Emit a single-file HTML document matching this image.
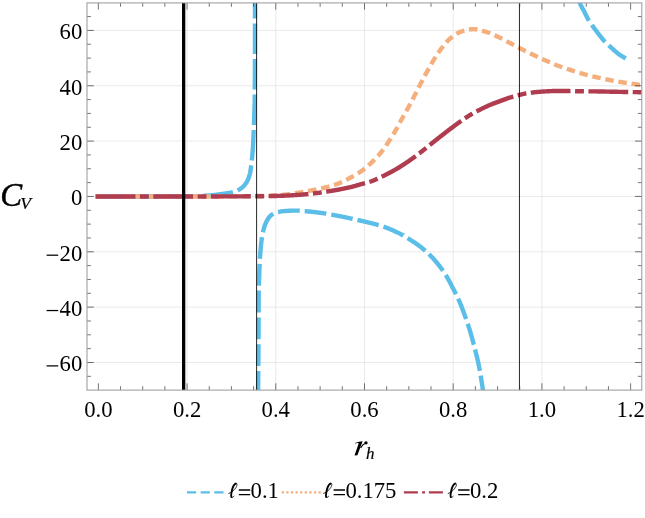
<!DOCTYPE html>
<html><head><meta charset="utf-8"><title>C_V vs r_h</title>
<style>
html,body{margin:0;padding:0;background:#fff;}
body{width:645px;height:518px;position:relative;overflow:hidden;font-family:"Liberation Serif",serif;}
</style></head><body>
<svg width="645" height="518" viewBox="0 0 645 518" style="position:absolute;left:0;top:0;will-change:transform">
<defs><clipPath id="c"><rect x="87.0" y="2.9" width="554.8" height="387.20000000000005"/></clipPath></defs>
<path d="M187.07 2.9 V390.1 M275.78 2.9 V390.1 M364.49 2.9 V390.1 M453.20 2.9 V390.1 M541.91 2.9 V390.1 M87.0 362.49 H641.8 M87.0 307.14 H641.8 M87.0 251.80 H641.8 M87.0 196.45 H641.8 M87.0 141.10 H641.8 M87.0 85.76 H641.8 M87.0 30.41 H641.8" stroke="#d4d4d4" stroke-width="0.5" fill="none"/>
<g clip-path="url(#c)" fill="none" stroke-linecap="butt" stroke-linejoin="round">
<path d="M95.60 196.45 L96.17 196.45 L96.75 196.45 L97.32 196.45 L97.90 196.45 L98.47 196.45 L99.05 196.45 L99.62 196.45 L100.19 196.45 L100.77 196.45 L101.34 196.45 L101.92 196.45 L102.49 196.45 L103.06 196.45 L103.64 196.45 L104.21 196.45 L104.79 196.45 L105.36 196.45 L105.94 196.45 L106.51 196.45 L107.08 196.45 L107.66 196.45 L108.23 196.45 L108.81 196.45 L109.38 196.45 L109.95 196.45 L110.53 196.45 L111.10 196.45 L111.68 196.45 L112.25 196.45 L112.83 196.45 L113.40 196.45 L113.97 196.45 L114.55 196.45 L115.12 196.45 L115.70 196.45 L116.27 196.45 L116.84 196.45 L117.42 196.45 L117.99 196.45 L118.57 196.45 L119.14 196.45 L119.72 196.45 L120.29 196.45 L120.86 196.45 L121.44 196.45 L122.01 196.45 L122.59 196.45 L123.16 196.45 L123.73 196.45 L124.31 196.45 L124.88 196.45 L125.46 196.45 L126.03 196.45 L126.42 196.45 M131.42 196.45 L131.77 196.45 L132.35 196.45 L132.92 196.45 L133.50 196.45 L134.07 196.45 L134.64 196.45 L135.22 196.45 L135.79 196.45 L136.37 196.45 L136.94 196.45 L137.52 196.45 L138.09 196.45 L138.66 196.45 L139.24 196.45 L139.81 196.45 L140.39 196.45 L140.96 196.45 L141.53 196.45 L142.11 196.45 L142.68 196.45 L143.26 196.45 L143.83 196.45 L144.41 196.45 L144.98 196.45 L145.55 196.45 L146.13 196.45 L146.70 196.44 L147.28 196.44 L147.85 196.44 L148.42 196.44 L149.00 196.44 L149.57 196.44 L150.15 196.44 L150.72 196.44 L151.30 196.44 L151.87 196.43 L152.44 196.43 L153.02 196.43 L153.59 196.43 L154.17 196.43 L154.74 196.43 L155.32 196.42 L155.89 196.42 L156.46 196.42 L157.04 196.42 L157.61 196.42 L158.19 196.41 L158.76 196.41 L159.33 196.41 L159.91 196.41 L160.48 196.41 L161.06 196.40 L161.63 196.40 L162.02 196.40 M167.02 196.38 L167.37 196.37 L167.95 196.37 L168.52 196.37 L169.10 196.36 L169.67 196.36 L170.24 196.36 L170.82 196.36 L171.39 196.35 L171.97 196.35 L172.54 196.35 L173.11 196.34 L173.69 196.34 L174.26 196.34 L174.84 196.33 L175.41 196.33 L175.99 196.33 L176.56 196.32 L177.13 196.32 L177.71 196.31 L178.28 196.31 L178.86 196.31 L179.43 196.30 L180.00 196.30 L180.58 196.30 L181.15 196.29 L181.73 196.29 L182.30 196.28 L182.88 196.28 L183.45 196.27 L184.02 196.27 L184.60 196.26 L185.17 196.26 L185.75 196.25 L186.32 196.25 L186.90 196.24 L187.47 196.23 L188.04 196.22 L188.62 196.22 L189.19 196.21 L189.77 196.20 L190.34 196.19 L190.92 196.18 L191.49 196.18 L192.06 196.17 L192.64 196.16 L193.21 196.15 L193.79 196.14 L194.36 196.13 L194.93 196.11 L195.51 196.10 L196.08 196.09 L196.66 196.08 L197.23 196.07 L197.62 196.06 M202.62 195.90 L202.97 195.88 L203.54 195.85 L204.11 195.82 L204.69 195.79 L205.26 195.75 L205.83 195.71 L206.41 195.67 L206.98 195.63 L207.55 195.59 L208.13 195.55 L208.70 195.50 L209.27 195.46 L209.84 195.41 L210.41 195.37 L210.99 195.32 L211.56 195.26 L212.13 195.21 L212.70 195.15 L213.27 195.08 L213.84 195.02 L214.41 194.95 L214.98 194.88 L215.55 194.81 L216.12 194.74 L216.69 194.67 L217.26 194.59 L217.83 194.52 L218.40 194.44 L218.97 194.37 L219.54 194.29 L220.11 194.21 L220.68 194.14 L221.25 194.06 L221.82 193.99 L222.39 193.91 L222.96 193.84 L223.54 193.77 L224.11 193.69 L224.68 193.62 L225.26 193.54 L225.83 193.46 L226.40 193.38 L226.97 193.29 L227.54 193.21 L228.11 193.12 L228.68 193.02 L229.24 192.93 L229.80 192.82 L230.36 192.72 L230.92 192.60 L231.48 192.49 L232.03 192.36 L232.58 192.23 L232.95 192.13 M237.62 190.36 L237.98 190.18 L238.48 189.92 L238.97 189.66 L239.46 189.38 L239.95 189.08 L240.43 188.76 L240.91 188.43 L241.38 188.08 L241.84 187.71 L242.29 187.34 L242.73 186.95 L243.15 186.56 L243.56 186.16 L243.95 185.76 L244.32 185.34 L244.69 184.91 L245.06 184.47 L245.41 184.01 L245.75 183.53 L246.08 183.05 L246.40 182.56 L246.71 182.06 L247.00 181.56 L247.27 181.06 L247.52 180.55 L247.76 180.04 L248.00 179.53 L248.23 179.00 L248.45 178.46 L248.66 177.92 L248.86 177.38 L249.05 176.83 L249.23 176.28 L249.40 175.73 L249.55 175.17 L249.69 174.62 L249.82 174.07 L249.95 173.51 L250.06 172.95 L250.18 172.39 L250.28 171.83 L250.38 171.26 L250.48 170.69 L250.57 170.12 L250.66 169.55 L250.75 168.98 L250.83 168.41 L250.91 167.84 L250.99 167.27 L251.07 166.70 L251.15 166.13 L251.22 165.56 L251.25 165.37 M251.81 160.40 L251.87 159.86 L251.92 159.29 L251.98 158.72 L252.03 158.14 L252.09 157.57 L252.14 157.00 L252.20 156.43 L252.25 155.86 L252.31 155.29 L252.36 154.71 L252.41 154.14 L252.46 153.57 L252.51 153.00 L252.56 152.42 L252.61 151.85 L252.66 151.28 L252.70 150.71 L252.75 150.14 L252.79 149.56 L252.83 148.99 L252.87 148.42 L252.91 147.84 L252.95 147.27 L252.98 146.70 L253.02 146.13 L253.05 145.55 L253.08 144.98 L253.11 144.41 L253.14 143.83 L253.17 143.26 L253.19 142.69 L253.22 142.11 L253.25 141.54 L253.27 140.97 L253.30 140.39 L253.32 139.82 L253.35 139.24 L253.37 138.67 L253.39 138.10 L253.41 137.52 L253.44 136.95 L253.46 136.38 L253.48 135.80 L253.50 135.23 L253.53 134.65 L253.55 134.08 L253.57 133.51 L253.59 132.93 L253.61 132.36 L253.64 131.78 L253.66 131.21 L253.68 130.64 L253.71 130.06 L253.71 129.97 M253.92 124.97 L253.92 124.90 L253.94 124.33 L253.97 123.75 L253.99 123.18 L254.02 122.61 L254.04 122.03 L254.06 121.46 L254.09 120.88 L254.11 120.31 L254.13 119.74 L254.15 119.16 L254.18 118.59 L254.20 118.02 L254.22 117.44 L254.24 116.87 L254.26 116.29 L254.28 115.72 L254.30 115.15 L254.32 114.57 L254.34 114.00 L254.36 113.42 L254.38 112.85 L254.39 112.28 L254.41 111.70 L254.43 111.13 L254.45 110.56 L254.46 109.98 L254.48 109.41 L254.50 108.83 L254.52 108.26 L254.53 107.69 L254.55 107.11 L254.57 106.54 L254.58 105.96 L254.60 105.39 L254.61 104.82 L254.63 104.24 L254.64 103.67 L254.65 103.09 L254.66 102.52 L254.67 101.95 L254.68 101.37 L254.69 100.80 L254.70 100.22 L254.70 99.65 L254.71 99.07 L254.71 98.50 L254.72 97.93 L254.72 97.35 L254.73 96.78 L254.73 96.20 L254.74 95.63 L254.74 95.06 L254.75 94.49 M254.79 89.49 L254.79 89.31 L254.79 88.74 L254.80 88.17 L254.80 87.59 L254.81 87.02 L254.81 86.44 L254.81 85.87 L254.82 85.30 L254.82 84.72 L254.82 84.15 L254.83 83.57 L254.83 83.00 L254.84 82.42 L254.84 81.85 L254.84 81.28 L254.85 80.70 L254.85 80.13 L254.85 79.55 L254.85 78.98 L254.86 78.41 L254.86 77.83 L254.86 77.26 L254.87 76.68 L254.87 76.11 L254.87 75.53 L254.87 74.96 L254.88 74.39 L254.88 73.81 L254.88 73.24 L254.88 72.66 L254.89 72.09 L254.89 71.52 L254.89 70.94 L254.89 70.37 L254.90 69.79 L254.90 69.22 L254.90 68.64 L254.90 68.07 L254.91 67.50 L254.91 66.92 L254.91 66.35 L254.91 65.77 L254.91 65.20 L254.91 64.62 L254.92 64.05 L254.92 63.48 L254.92 62.90 L254.92 62.33 L254.92 61.75 L254.93 61.18 L254.93 60.61 L254.93 60.03 L254.93 59.46 L254.93 58.99 M254.94 53.99 L254.94 53.71 L254.94 53.14 L254.95 52.57 L254.95 51.99 L254.95 51.42 L254.95 50.84 L254.95 50.27 L254.95 49.70 L254.95 49.12 L254.95 48.55 L254.95 47.97 L254.95 47.40 L254.96 46.82 L254.96 46.25 L254.96 45.68 L254.96 45.10 L254.96 44.53 L254.96 43.95 L254.96 43.38 L254.96 42.81 L254.96 42.23 L254.96 41.66 L254.96 41.08 L254.97 40.51 L254.97 39.93 L254.97 39.36 L254.97 38.79 L254.97 38.21 L254.97 37.64 L254.97 37.06 L254.97 36.49 L254.97 35.92 L254.97 35.34 L254.97 34.77 L254.98 34.19 L254.98 33.62 L254.98 33.04 L254.98 32.47 L254.98 31.90 L254.98 31.32 L254.98 30.75 L254.98 30.17 L254.98 29.60 L254.98 29.03 L254.98 28.45 L254.98 27.88 L254.98 27.30 L254.98 26.73 L254.99 26.15 L254.99 25.58 L254.99 25.01 L254.99 24.43 L254.99 23.86 L254.99 23.49 M254.99 18.49 L254.99 18.12 L254.99 17.54 L254.99 16.97 L254.99 16.39 L255.00 15.82 L255.00 15.24 L255.00 14.67 L255.00 14.10 L255.00 13.52 L255.00 12.95 L255.00 12.37 L255.00 11.80 L255.00 11.23 L255.00 10.65 L255.00 10.08 L255.00 9.50 L255.00 8.93 L255.00 8.35 L255.00 7.78 L255.00 7.21 L255.00 6.63 L255.00 6.06 L255.00 5.48 L255.00 4.91 L255.00 4.34 L255.00 3.76 L255.00 3.19 L255.00 2.61 L255.00 2.04 L255.00 1.46 L255.00 0.89 L255.00 0.32 L255.00 -0.26 L255.00 -0.83 L255.00 -1.41 L255.00 -1.98 L255.00 -2.55 L255.00 -3.13 L255.00 -3.70 L255.00 -4.28 L255.00 -4.85 L255.00 -5.43 L255.00 -6.00 " stroke="#5abee8" stroke-width="4.4"/>
<path d="M258.06 392.80 L258.06 392.62 L258.07 392.06 L258.08 391.50 L258.09 390.94 L258.09 390.37 L258.10 389.81 L258.11 389.25 L258.11 388.68 L258.12 388.12 L258.13 387.56 L258.13 387.00 L258.14 386.43 L258.14 385.87 L258.15 385.31 L258.16 384.75 L258.16 384.18 L258.17 383.62 L258.17 383.06 L258.18 382.49 L258.19 381.93 L258.19 381.37 L258.20 380.81 L258.20 380.24 L258.21 379.68 L258.21 379.12 L258.22 378.56 L258.23 377.99 L258.23 377.43 L258.24 376.87 L258.24 376.30 L258.25 375.74 L258.25 375.18 L258.26 374.62 L258.26 374.05 L258.27 373.49 L258.27 372.93 L258.28 372.37 L258.28 371.80 L258.29 371.24 L258.29 371.00 M258.33 366.00 L258.33 365.61 L258.34 365.05 L258.34 364.49 L258.35 363.92 L258.35 363.36 L258.35 362.80 L258.36 362.24 L258.36 361.67 L258.37 361.11 L258.37 360.55 L258.37 359.98 L258.38 359.42 L258.38 358.86 L258.39 358.30 L258.39 357.73 L258.39 357.17 L258.40 356.61 L258.40 356.05 L258.41 355.48 L258.41 354.92 L258.41 354.36 L258.42 353.79 L258.42 353.23 L258.42 352.67 L258.43 352.11 L258.43 351.54 L258.43 350.98 L258.44 350.42 L258.44 349.85 L258.45 349.29 L258.45 348.73 L258.45 348.17 L258.46 347.60 L258.46 347.04 L258.46 346.48 L258.47 345.92 L258.47 345.35 L258.47 344.79 L258.48 344.23 L258.48 344.20 M258.50 339.20 L258.50 339.16 L258.51 338.60 L258.51 338.04 L258.51 337.47 L258.52 336.91 L258.52 336.35 L258.52 335.79 L258.52 335.22 L258.53 334.66 L258.53 334.10 L258.53 333.53 L258.53 332.97 L258.54 332.41 L258.54 331.85 L258.54 331.28 L258.54 330.72 L258.54 330.16 L258.55 329.59 L258.55 329.03 L258.55 328.47 L258.55 327.91 L258.55 327.34 L258.55 326.78 L258.56 326.22 L258.56 325.65 L258.56 325.09 L258.56 324.53 L258.56 323.97 L258.57 323.40 L258.57 322.84 L258.57 322.28 L258.57 321.72 L258.57 321.15 L258.57 320.59 L258.57 320.03 L258.58 319.46 L258.58 318.90 L258.58 318.34 L258.58 317.78 L258.58 317.40 M258.60 312.40 L258.60 312.15 L258.60 311.58 L258.60 311.02 L258.61 310.46 L258.61 309.90 L258.61 309.33 L258.61 308.77 L258.61 308.21 L258.62 307.65 L258.62 307.08 L258.62 306.52 L258.62 305.96 L258.63 305.39 L258.63 304.83 L258.63 304.27 L258.63 303.71 L258.64 303.14 L258.64 302.58 L258.64 302.02 L258.65 301.46 L258.65 300.89 L258.65 300.33 L258.66 299.77 L258.66 299.20 L258.66 298.64 L258.67 298.08 L258.67 297.52 L258.68 296.95 L258.68 296.39 L258.69 295.83 L258.69 295.27 L258.69 294.70 L258.70 294.14 L258.70 293.58 L258.71 293.01 L258.72 292.45 L258.73 291.89 L258.74 291.33 L258.75 290.76 L258.75 290.60 M258.88 285.60 L258.89 285.14 L258.91 284.58 L258.93 284.01 L258.95 283.45 L258.97 282.89 L258.98 282.33 L259.00 281.76 L259.02 281.20 L259.04 280.64 L259.06 280.08 L259.07 279.51 L259.09 278.95 L259.11 278.39 L259.13 277.83 L259.14 277.26 L259.16 276.70 L259.18 276.14 L259.20 275.58 L259.22 275.01 L259.23 274.45 L259.25 273.89 L259.27 273.32 L259.29 272.76 L259.31 272.20 L259.33 271.64 L259.35 271.07 L259.37 270.51 L259.39 269.95 L259.41 269.39 L259.43 268.82 L259.45 268.26 L259.47 267.70 L259.50 267.14 L259.52 266.58 L259.54 266.01 L259.57 265.45 L259.59 264.89 L259.62 264.33 L259.64 263.82 M259.91 258.82 L259.92 258.71 L259.95 258.15 L259.99 257.58 L260.03 257.02 L260.07 256.46 L260.11 255.90 L260.15 255.34 L260.19 254.78 L260.23 254.22 L260.27 253.65 L260.32 253.09 L260.36 252.53 L260.41 251.97 L260.45 251.41 L260.50 250.85 L260.54 250.29 L260.59 249.73 L260.64 249.17 L260.69 248.61 L260.74 248.05 L260.79 247.49 L260.84 246.93 L260.90 246.36 L260.95 245.80 L261.00 245.24 L261.06 244.68 L261.12 244.12 L261.18 243.56 L261.24 243.00 L261.30 242.44 L261.36 241.88 L261.43 241.32 L261.50 240.76 L261.56 240.20 L261.64 239.64 L261.71 239.09 L261.79 238.53 L261.86 237.97 L261.95 237.42 L261.99 237.13 M262.90 232.21 L262.98 231.88 L263.11 231.33 L263.24 230.78 L263.38 230.23 L263.52 229.69 L263.67 229.14 L263.82 228.60 L263.97 228.06 L264.13 227.53 L264.29 227.00 L264.47 226.46 L264.65 225.93 L264.83 225.39 L265.03 224.86 L265.24 224.33 L265.45 223.80 L265.67 223.27 L265.90 222.75 L266.14 222.24 L266.39 221.73 L266.64 221.23 L266.90 220.74 L267.17 220.26 L267.44 219.78 L267.74 219.30 L268.05 218.81 L268.37 218.33 L268.71 217.86 L269.06 217.39 L269.43 216.94 L269.80 216.51 L270.19 216.10 L270.59 215.72 L270.99 215.36 L271.41 215.04 L271.85 214.73 L272.31 214.42 L272.79 214.12 L273.28 213.83 L273.33 213.80 M277.99 212.04 L278.06 212.03 L278.60 211.91 L279.15 211.80 L279.70 211.69 L280.25 211.60 L280.81 211.50 L281.38 211.42 L281.94 211.34 L282.50 211.26 L283.07 211.20 L283.64 211.14 L284.20 211.08 L284.76 211.04 L285.32 211.00 L285.88 210.96 L286.44 210.93 L287.01 210.89 L287.57 210.86 L288.13 210.83 L288.69 210.80 L289.25 210.77 L289.82 210.74 L290.38 210.72 L290.94 210.69 L291.51 210.67 L292.07 210.65 L292.63 210.64 L293.20 210.62 L293.76 210.61 L294.32 210.61 L294.88 210.60 L295.45 210.60 L296.01 210.60 L296.57 210.61 L297.13 210.63 L297.70 210.65 L298.26 210.67 L298.82 210.70 L299.38 210.74 L299.70 210.76 M304.68 211.14 L305.00 211.16 L305.56 211.20 L306.12 211.25 L306.68 211.29 L307.24 211.34 L307.80 211.39 L308.36 211.44 L308.92 211.49 L309.48 211.54 L310.04 211.60 L310.60 211.65 L311.16 211.71 L311.72 211.77 L312.28 211.83 L312.84 211.89 L313.40 211.95 L313.96 212.01 L314.52 212.08 L315.08 212.14 L315.64 212.20 L316.20 212.27 L316.76 212.34 L317.31 212.41 L317.87 212.48 L318.43 212.55 L318.99 212.63 L319.55 212.70 L320.10 212.78 L320.66 212.86 L321.22 212.94 L321.78 213.02 L322.33 213.10 L322.89 213.18 L323.45 213.27 L324.00 213.35 L324.56 213.44 L325.12 213.52 L325.67 213.61 L326.23 213.70 L326.32 213.72 M331.25 214.57 L331.77 214.67 L332.32 214.77 L332.88 214.87 L333.43 214.97 L333.98 215.08 L334.54 215.18 L335.09 215.29 L335.64 215.39 L336.20 215.49 L336.75 215.60 L337.30 215.70 L337.86 215.81 L338.41 215.92 L338.96 216.02 L339.51 216.13 L340.07 216.24 L340.62 216.35 L341.17 216.46 L341.72 216.57 L342.27 216.68 L342.82 216.79 L343.38 216.90 L343.93 217.01 L344.48 217.13 L345.03 217.24 L345.58 217.35 L346.13 217.47 L346.68 217.58 L347.23 217.70 L347.78 217.82 L348.33 217.94 L348.88 218.05 L349.43 218.17 L349.98 218.29 L350.53 218.41 L351.08 218.53 L351.63 218.65 L352.18 218.77 L352.62 218.87 M357.50 219.96 L357.68 220.00 L358.23 220.12 L358.78 220.24 L359.33 220.36 L359.88 220.48 L360.42 220.61 L360.97 220.73 L361.52 220.85 L362.07 220.98 L362.62 221.10 L363.17 221.23 L363.72 221.36 L364.26 221.49 L364.81 221.62 L365.36 221.75 L365.91 221.88 L366.45 222.01 L367.00 222.14 L367.55 222.27 L368.10 222.41 L368.64 222.54 L369.19 222.67 L369.74 222.80 L370.29 222.94 L370.83 223.07 L371.38 223.21 L371.93 223.34 L372.47 223.48 L373.02 223.62 L373.57 223.76 L374.11 223.90 L374.66 224.04 L375.20 224.18 L375.74 224.33 L376.29 224.47 L376.83 224.62 L377.37 224.77 L377.91 224.93 L378.45 225.08 L378.67 225.14 M383.44 226.65 L383.81 226.78 L384.34 226.97 L384.87 227.16 L385.41 227.35 L385.93 227.54 L386.46 227.74 L386.99 227.94 L387.52 228.14 L388.04 228.34 L388.57 228.55 L389.09 228.75 L389.61 228.96 L390.13 229.17 L390.65 229.38 L391.17 229.60 L391.69 229.82 L392.21 230.04 L392.72 230.26 L393.24 230.49 L393.75 230.72 L394.27 230.95 L394.78 231.19 L395.29 231.42 L395.80 231.66 L396.31 231.90 L396.82 232.15 L397.33 232.40 L397.83 232.64 L398.34 232.90 L398.84 233.15 L399.34 233.40 L399.84 233.66 L400.34 233.92 L400.83 234.18 L401.33 234.45 L401.82 234.72 L402.31 234.99 L402.80 235.27 L403.29 235.54 L403.30 235.55 M407.59 238.13 L407.64 238.16 L408.12 238.46 L408.59 238.76 L409.07 239.06 L409.55 239.36 L410.02 239.66 L410.49 239.96 L410.97 240.26 L411.44 240.57 L411.92 240.87 L412.39 241.17 L412.87 241.48 L413.34 241.79 L413.81 242.09 L414.28 242.40 L414.76 242.71 L415.23 243.03 L415.69 243.34 L416.16 243.66 L416.63 243.98 L417.09 244.30 L417.55 244.62 L418.01 244.95 L418.47 245.28 L418.92 245.61 L419.37 245.94 L419.82 246.28 L420.26 246.62 L420.71 246.96 L421.15 247.31 L421.59 247.66 L422.02 248.01 L422.46 248.36 L422.89 248.72 L423.33 249.08 L423.76 249.45 L424.19 249.81 L424.62 250.18 L425.04 250.55 L425.30 250.78 M428.97 254.18 L429.18 254.39 L429.58 254.78 L429.98 255.17 L430.38 255.57 L430.77 255.97 L431.16 256.37 L431.55 256.78 L431.93 257.18 L432.32 257.59 L432.70 258.00 L433.08 258.42 L433.46 258.83 L433.84 259.25 L434.22 259.67 L434.59 260.10 L434.96 260.52 L435.33 260.95 L435.70 261.38 L436.07 261.81 L436.43 262.24 L436.79 262.67 L437.15 263.11 L437.51 263.55 L437.86 263.98 L438.22 264.42 L438.57 264.86 L438.92 265.31 L439.26 265.75 L439.61 266.20 L439.95 266.64 L440.29 267.09 L440.63 267.54 L440.96 267.98 L441.29 268.44 L441.62 268.89 L441.95 269.35 L442.28 269.81 L442.60 270.27 L442.92 270.73 L442.99 270.83 M445.73 275.01 L446.00 275.45 L446.30 275.93 L446.59 276.41 L446.88 276.89 L447.16 277.38 L447.44 277.86 L447.72 278.35 L448.00 278.84 L448.27 279.33 L448.54 279.82 L448.81 280.32 L449.08 280.81 L449.34 281.31 L449.61 281.81 L449.87 282.31 L450.13 282.81 L450.39 283.31 L450.65 283.81 L450.91 284.31 L451.16 284.81 L451.42 285.31 L451.68 285.81 L451.93 286.32 L452.19 286.82 L452.44 287.32 L452.70 287.82 L452.96 288.32 L453.21 288.82 L453.47 289.32 L453.73 289.83 L453.99 290.33 L454.24 290.83 L454.50 291.33 L454.76 291.83 L455.02 292.33 L455.27 292.83 L455.53 293.33 L455.79 293.83 L455.99 294.24 M458.18 298.73 L458.25 298.89 L458.49 299.40 L458.72 299.92 L458.95 300.43 L459.17 300.94 L459.40 301.46 L459.62 301.97 L459.84 302.49 L460.06 303.01 L460.27 303.53 L460.49 304.05 L460.70 304.57 L460.91 305.10 L461.12 305.62 L461.33 306.14 L461.53 306.67 L461.74 307.19 L461.94 307.72 L462.15 308.24 L462.35 308.77 L462.55 309.29 L462.75 309.82 L462.95 310.34 L463.15 310.87 L463.35 311.39 L463.55 311.92 L463.75 312.45 L463.94 312.98 L464.13 313.51 L464.33 314.03 L464.52 314.56 L464.71 315.09 L464.90 315.62 L465.09 316.15 L465.28 316.68 L465.46 317.21 L465.65 317.75 L465.84 318.28 L466.02 318.81 L466.10 319.04 M467.71 323.77 L467.83 324.14 L468.01 324.67 L468.18 325.21 L468.36 325.74 L468.53 326.28 L468.70 326.81 L468.88 327.35 L469.05 327.89 L469.22 328.42 L469.39 328.96 L469.55 329.50 L469.72 330.03 L469.88 330.57 L470.05 331.11 L470.21 331.65 L470.37 332.19 L470.53 332.73 L470.69 333.27 L470.85 333.81 L471.00 334.35 L471.16 334.89 L471.32 335.43 L471.47 335.97 L471.62 336.51 L471.78 337.05 L471.93 337.60 L472.08 338.14 L472.23 338.68 L472.38 339.22 L472.53 339.77 L472.68 340.31 L472.82 340.85 L472.97 341.40 L473.11 341.94 L473.26 342.48 L473.40 343.03 L473.54 343.57 L473.68 344.12 L473.82 344.66 L473.83 344.69 M475.06 349.54 L475.07 349.57 L475.20 350.12 L475.34 350.66 L475.48 351.21 L475.62 351.76 L475.76 352.30 L475.90 352.85 L476.04 353.39 L476.18 353.94 L476.32 354.48 L476.46 355.03 L476.60 355.57 L476.73 356.12 L476.87 356.66 L477.00 357.21 L477.14 357.76 L477.27 358.30 L477.40 358.85 L477.53 359.40 L477.65 359.95 L477.78 360.50 L477.90 361.05 L478.02 361.60 L478.14 362.15 L478.25 362.70 L478.37 363.25 L478.48 363.80 L478.60 364.35 L478.71 364.90 L478.82 365.45 L478.93 366.01 L479.04 366.56 L479.14 367.11 L479.25 367.66 L479.36 368.22 L479.46 368.77 L479.56 369.32 L479.67 369.88 L479.77 370.43 L479.84 370.80 M480.69 375.72 L480.73 375.97 L480.82 376.53 L480.91 377.08 L481.01 377.64 L481.10 378.20 L481.19 378.75 L481.28 379.31 L481.37 379.86 L481.45 380.42 L481.54 380.97 L481.63 381.53 L481.72 382.09 L481.81 382.64 L481.90 383.20 L481.98 383.75 L482.07 384.31 L482.15 384.87 L482.24 385.42 L482.32 385.98 L482.41 386.53 L482.49 387.09 L482.58 387.65 L482.66 388.20 L482.74 388.76 L482.83 389.32 L482.91 389.87 L482.99 390.43 L483.08 390.99 L483.16 391.54 L483.24 392.10 L483.32 392.66 L483.40 393.21 L483.48 393.77 L483.56 394.33 L483.64 394.89 L483.72 395.44 L483.80 396.00 " stroke="#5abee8" stroke-width="4.4"/>
<path d="M578.40 -4.00 L578.46 -3.47 M579.47 1.42 L579.61 1.93 L579.75 2.44 L579.91 2.96 L580.08 3.47 L580.27 3.97 L580.48 4.47 L580.69 4.97 L580.92 5.47 L581.17 5.96 L581.42 6.45 L581.67 6.94 L581.94 7.42 L582.20 7.91 L582.48 8.39 L582.75 8.88 L583.02 9.36 L583.30 9.84 L583.57 10.33 L583.83 10.81 L584.09 11.30 L584.34 11.79 L584.59 12.28 L584.83 12.77 L585.08 13.26 L585.32 13.76 L585.56 14.25 L585.80 14.75 L586.04 15.24 L586.29 15.73 L586.53 16.22 L586.78 16.72 L587.03 17.20 L587.28 17.69 L587.53 18.17 L587.79 18.66 L588.06 19.13 L588.33 19.61 L588.61 20.08 L588.89 20.54 L589.01 20.74 M591.80 24.89 L591.94 25.09 L592.26 25.54 L592.59 25.99 L592.91 26.43 L593.24 26.87 L593.56 27.32 L593.89 27.76 L594.21 28.20 L594.54 28.64 L594.86 29.09 L595.19 29.53 L595.51 29.97 L595.84 30.41 L596.17 30.84 L596.50 31.28 L596.84 31.72 L597.17 32.15 L597.51 32.58 L597.84 33.02 L598.18 33.45 L598.52 33.88 L598.86 34.31 L599.20 34.74 L599.54 35.17 L599.88 35.60 L600.22 36.03 L600.56 36.46 L600.90 36.90 L601.24 37.33 L601.58 37.76 L601.92 38.19 L602.27 38.62 L602.61 39.04 L602.96 39.47 L603.32 39.88 L603.67 40.30 L604.03 40.71 L604.40 41.11 L604.77 41.51 L605.12 41.88 M608.69 45.38 L609.08 45.74 L609.48 46.11 L609.89 46.48 L610.29 46.85 L610.70 47.22 L611.11 47.58 L611.52 47.95 L611.93 48.32 L612.34 48.68 L612.75 49.04 L613.16 49.41 L613.57 49.77 L613.98 50.14 L614.39 50.50 L614.80 50.87 L615.22 51.23 L615.63 51.59 L616.05 51.95 L616.47 52.30 L616.90 52.65 L617.32 53.00 L617.75 53.34 L618.18 53.68 L618.62 54.00 L619.06 54.33 L619.50 54.64 L619.95 54.95 L620.41 55.25 L620.87 55.54 L621.33 55.83 L621.80 56.12 L622.27 56.40 L622.75 56.68 L623.22 56.96 L623.70 57.24 L624.17 57.51 L624.65 57.79 L625.12 58.07 L625.59 58.35 L625.78 58.47 " stroke="#5abee8" stroke-width="4.4"/>
<path d="M95.60 196.45 L96.31 196.45 L97.02 196.45 L97.73 196.45 L98.45 196.45 L99.16 196.45 L99.87 196.45 L100.58 196.45 L101.29 196.45 L102.00 196.45 L102.71 196.45 L103.42 196.45 L104.14 196.45 L104.15 196.45 M108.90 196.45 L109.11 196.45 L109.83 196.45 L110.54 196.45 L111.25 196.45 L111.96 196.45 L112.67 196.45 L113.38 196.45 L114.09 196.45 L114.80 196.45 L115.52 196.45 L116.23 196.45 L116.94 196.45 L117.45 196.45 M122.20 196.45 L122.63 196.45 L123.34 196.45 L124.05 196.45 L124.76 196.45 L125.47 196.45 L126.18 196.45 L126.90 196.45 L127.61 196.45 L128.32 196.45 L129.03 196.45 L129.74 196.45 L130.45 196.45 L130.75 196.45 M135.50 196.45 L136.14 196.45 L136.85 196.45 L137.56 196.45 L138.28 196.45 L138.99 196.45 L139.70 196.45 L140.41 196.45 L141.12 196.45 L141.83 196.45 L142.54 196.45 L143.25 196.45 L143.97 196.45 L144.05 196.45 M148.80 196.45 L148.94 196.45 L149.66 196.45 L150.37 196.45 L151.08 196.45 L151.79 196.45 L152.50 196.45 L153.21 196.45 L153.92 196.45 L154.63 196.45 L155.35 196.45 L156.06 196.45 L156.77 196.45 L157.35 196.45 M162.10 196.45 L162.46 196.45 L163.17 196.45 L163.88 196.45 L164.59 196.45 L165.30 196.45 L166.01 196.45 L166.73 196.45 L167.44 196.45 L168.15 196.45 L168.86 196.45 L169.57 196.45 L170.28 196.45 L170.65 196.45 M175.40 196.45 L175.97 196.45 L176.68 196.45 L177.39 196.45 L178.11 196.45 L178.82 196.45 L179.53 196.45 L180.24 196.45 L180.95 196.45 L181.66 196.45 L182.37 196.45 L183.08 196.45 L183.80 196.45 L183.95 196.45 M188.70 196.45 L188.77 196.45 L189.49 196.45 L190.20 196.45 L190.91 196.45 L191.62 196.45 L192.33 196.45 L193.04 196.45 L193.75 196.45 L194.46 196.45 L195.18 196.45 L195.89 196.45 L196.60 196.45 L197.25 196.45 M202.00 196.45 L202.29 196.45 L203.00 196.45 L203.71 196.45 L204.42 196.45 L205.13 196.45 L205.84 196.45 L206.56 196.45 L207.27 196.44 L207.98 196.44 L208.69 196.44 L209.40 196.44 L210.11 196.44 L210.55 196.44 M215.30 196.42 L215.80 196.42 L216.51 196.42 L217.22 196.42 L217.94 196.42 L218.65 196.41 L219.36 196.41 L220.07 196.41 L220.78 196.40 L221.49 196.40 L222.20 196.40 L222.91 196.40 L223.63 196.39 L223.85 196.39 M228.60 196.37 L228.60 196.37 L229.32 196.36 L230.03 196.36 L230.74 196.36 L231.45 196.35 L232.16 196.35 L232.87 196.34 L233.58 196.34 L234.29 196.34 L235.01 196.33 L235.72 196.33 L236.43 196.32 L237.14 196.32 L237.15 196.32 M241.90 196.29 L242.12 196.28 L242.83 196.28 L243.54 196.27 L244.25 196.26 L244.96 196.26 L245.67 196.25 L246.39 196.24 L247.10 196.23 L247.81 196.22 L248.52 196.21 L249.23 196.20 L249.94 196.19 L250.45 196.18 M255.20 196.10 L255.63 196.09 L256.34 196.07 L257.06 196.06 L257.77 196.04 L258.48 196.03 L259.19 196.01 L259.90 195.99 L260.61 195.98 L261.32 195.96 L262.03 195.94 L262.74 195.92 L263.46 195.90 L263.75 195.89 M268.49 195.75 L269.14 195.73 L269.85 195.71 L270.56 195.68 L271.27 195.65 L271.98 195.62 L272.69 195.58 L273.40 195.55 L274.11 195.50 L274.82 195.46 L275.53 195.41 L276.24 195.36 L276.95 195.31 L277.03 195.30 M281.76 194.90 L281.92 194.89 L282.62 194.83 L283.33 194.76 L284.04 194.69 L284.75 194.62 L285.45 194.56 L286.16 194.48 L286.87 194.41 L287.57 194.32 L288.28 194.24 L288.99 194.15 L289.69 194.06 L290.26 193.98 M294.96 193.30 L295.33 193.24 L296.03 193.13 L296.73 193.02 L297.44 192.91 L298.14 192.80 L298.84 192.69 L299.54 192.58 L300.24 192.47 L300.95 192.35 L301.65 192.23 L302.35 192.11 L303.05 191.99 L303.40 191.93 M308.07 191.06 L308.64 190.95 L309.34 190.82 L310.04 190.68 L310.74 190.55 L311.44 190.41 L312.14 190.27 L312.83 190.14 L313.53 190.00 L314.23 189.87 L314.93 189.73 L315.63 189.60 L316.33 189.46 L316.47 189.43 M321.12 188.48 L321.21 188.46 L321.91 188.31 L322.60 188.16 L323.29 188.00 L323.99 187.84 L324.68 187.68 L325.37 187.51 L326.05 187.34 L326.74 187.16 L327.43 186.98 L328.12 186.80 L328.81 186.61 L329.42 186.44 M333.97 185.07 L334.28 184.97 L334.95 184.75 L335.63 184.52 L336.30 184.29 L336.97 184.05 L337.63 183.81 L338.30 183.57 L338.96 183.32 L339.61 183.06 L340.27 182.79 L340.92 182.51 L341.56 182.22 L341.96 182.04 M346.21 179.92 L346.67 179.68 L347.30 179.34 L347.93 179.00 L348.56 178.66 L349.18 178.32 L349.81 177.98 L350.43 177.64 L351.05 177.30 L351.68 176.96 L352.30 176.62 L352.93 176.27 L353.55 175.93 L353.72 175.83 M357.82 173.44 L357.87 173.41 L358.48 173.04 L359.08 172.66 L359.67 172.27 L360.26 171.88 L360.85 171.48 L361.43 171.08 L362.00 170.67 L362.57 170.25 L363.13 169.83 L363.70 169.39 L364.25 168.95 L364.80 168.51 M368.40 165.42 L368.60 165.24 L369.12 164.76 L369.65 164.28 L370.17 163.79 L370.69 163.31 L371.21 162.82 L371.72 162.33 L372.24 161.84 L372.75 161.35 L373.26 160.85 L373.77 160.35 L374.27 159.85 L374.60 159.53 M377.87 156.09 L378.21 155.72 L378.68 155.19 L379.15 154.65 L379.62 154.11 L380.07 153.57 L380.53 153.03 L380.98 152.48 L381.42 151.93 L381.86 151.38 L382.29 150.81 L382.72 150.25 L383.14 149.68 L383.29 149.48 M386.03 145.60 L386.42 145.01 L386.82 144.42 L387.22 143.83 L387.61 143.24 L388.01 142.64 L388.40 142.05 L388.79 141.46 L389.18 140.86 L389.57 140.27 L389.96 139.67 L390.34 139.08 L390.73 138.48 L390.74 138.46 M393.24 134.42 L393.35 134.24 L393.72 133.63 L394.08 133.02 L394.45 132.41 L394.81 131.80 L395.17 131.18 L395.53 130.57 L395.88 129.95 L396.24 129.34 L396.59 128.72 L396.93 128.10 L397.28 127.48 L397.52 127.02 M399.77 122.84 L399.97 122.46 L400.30 121.83 L400.64 121.21 L400.98 120.58 L401.31 119.95 L401.65 119.33 L402.00 118.70 L402.34 118.08 L402.69 117.46 L403.04 116.84 L403.39 116.22 L403.74 115.60 L403.88 115.34 M406.23 111.22 L406.55 110.66 L406.90 110.04 L407.25 109.42 L407.59 108.79 L407.94 108.17 L408.28 107.55 L408.62 106.92 L408.96 106.30 L409.29 105.67 L409.63 105.04 L409.96 104.42 L410.29 103.79 L410.33 103.71 M412.53 99.50 L412.59 99.37 L412.92 98.74 L413.25 98.11 L413.57 97.48 L413.90 96.84 L414.23 96.21 L414.55 95.58 L414.88 94.95 L415.21 94.32 L415.53 93.68 L415.86 93.05 L416.18 92.42 L416.44 91.90 M418.60 87.67 L418.77 87.35 L419.09 86.72 L419.42 86.08 L419.74 85.45 L420.07 84.82 L420.39 84.19 L420.72 83.56 L421.05 82.93 L421.38 82.30 L421.71 81.66 L422.04 81.03 L422.37 80.40 L422.54 80.08 M424.75 75.87 L425.02 75.37 L425.35 74.74 L425.69 74.11 L426.03 73.49 L426.36 72.86 L426.70 72.24 L427.05 71.61 L427.39 70.99 L427.73 70.37 L428.08 69.75 L428.42 69.12 L428.77 68.50 L428.84 68.37 M431.18 64.23 L431.22 64.16 L431.58 63.55 L431.94 62.94 L432.30 62.32 L432.66 61.71 L433.03 61.11 L433.40 60.50 L433.77 59.89 L434.15 59.29 L434.52 58.68 L434.90 58.08 L435.28 57.48 L435.62 56.93 M438.22 52.95 L438.39 52.70 L438.79 52.11 L439.20 51.53 L439.61 50.95 L440.02 50.37 L440.44 49.79 L440.86 49.23 L441.28 48.66 L441.71 48.09 L442.14 47.52 L442.57 46.95 L443.01 46.38 L443.26 46.05 M446.27 42.37 L446.65 41.94 L447.13 41.41 L447.62 40.90 L448.12 40.40 L448.62 39.91 L449.13 39.44 L449.65 38.98 L450.18 38.52 L450.71 38.05 L451.26 37.59 L451.82 37.12 L452.39 36.66 L452.52 36.55 M456.38 33.80 L456.55 33.69 L457.17 33.33 L457.79 32.99 L458.42 32.68 L459.05 32.39 L459.68 32.14 L460.32 31.91 L460.97 31.69 L461.62 31.48 L462.29 31.26 L462.97 31.05 L463.65 30.84 L464.30 30.65 M468.92 29.56 L469.30 29.50 L470.02 29.39 L470.73 29.30 L471.44 29.23 L472.15 29.18 L472.85 29.16 L473.55 29.15 L474.24 29.17 L474.94 29.22 L475.64 29.29 L476.34 29.38 L477.05 29.49 L477.42 29.56 M482.03 30.68 L482.64 30.86 L483.34 31.06 L484.02 31.26 L484.71 31.47 L485.39 31.67 L486.07 31.86 L486.75 32.06 L487.42 32.27 L488.09 32.50 L488.75 32.73 L489.42 32.98 L490.08 33.24 L490.17 33.28 M494.52 35.18 L494.66 35.24 L495.31 35.55 L495.96 35.85 L496.61 36.16 L497.25 36.46 L497.90 36.76 L498.54 37.07 L499.18 37.37 L499.82 37.68 L500.46 37.99 L501.09 38.31 L501.73 38.63 L502.23 38.89 M506.42 41.13 L506.75 41.31 L507.38 41.65 L508.01 41.98 L508.63 42.32 L509.26 42.65 L509.89 42.99 L510.52 43.32 L511.15 43.65 L511.78 43.98 L512.41 44.31 L513.04 44.64 L513.67 44.97 L513.97 45.13 M518.17 47.34 L518.71 47.62 L519.34 47.95 L519.97 48.27 L520.60 48.60 L521.24 48.92 L521.87 49.24 L522.50 49.56 L523.14 49.88 L523.78 50.20 L524.41 50.52 L525.05 50.84 L525.68 51.16 L525.80 51.21 M530.06 53.31 L530.15 53.35 L530.79 53.66 L531.43 53.97 L532.08 54.28 L532.72 54.59 L533.36 54.89 L534.00 55.20 L534.64 55.50 L535.29 55.80 L535.93 56.10 L536.58 56.40 L537.22 56.70 L537.79 56.97 M542.11 58.93 L542.40 59.06 L543.05 59.35 L543.70 59.64 L544.35 59.93 L545.00 60.22 L545.65 60.50 L546.30 60.79 L546.96 61.07 L547.61 61.36 L548.26 61.64 L548.91 61.93 L549.56 62.21 L549.94 62.37 M554.31 64.23 L554.81 64.43 L555.47 64.70 L556.13 64.96 L556.79 65.22 L557.45 65.48 L558.11 65.73 L558.78 65.98 L559.45 66.23 L560.11 66.47 L560.78 66.71 L561.45 66.95 L562.12 67.18 L562.31 67.25 M566.81 68.76 L566.84 68.77 L567.52 69.00 L568.20 69.22 L568.87 69.44 L569.55 69.66 L570.23 69.88 L570.90 70.10 L571.58 70.32 L572.25 70.54 L572.93 70.76 L573.61 70.99 L574.28 71.21 L574.94 71.42 M579.47 72.86 L579.71 72.93 L580.39 73.14 L581.07 73.35 L581.75 73.55 L582.43 73.74 L583.12 73.94 L583.80 74.13 L584.49 74.31 L585.17 74.50 L585.86 74.68 L586.55 74.86 L587.24 75.04 L587.70 75.16 M592.32 76.28 L592.77 76.39 L593.46 76.55 L594.15 76.71 L594.85 76.87 L595.54 77.03 L596.23 77.19 L596.92 77.35 L597.62 77.51 L598.31 77.67 L599.01 77.82 L599.70 77.98 L600.39 78.13 L600.65 78.19 M605.29 79.19 L605.96 79.33 L606.65 79.47 L607.35 79.62 L608.05 79.76 L608.75 79.89 L609.44 80.03 L610.14 80.17 L610.84 80.30 L611.54 80.43 L612.24 80.56 L612.94 80.69 L613.64 80.82 L613.68 80.83 M618.36 81.65 L618.54 81.68 L619.24 81.80 L619.95 81.92 L620.65 82.03 L621.35 82.15 L622.05 82.26 L622.75 82.38 L623.45 82.49 L624.16 82.60 L624.86 82.71 L625.56 82.82 L626.27 82.93 L626.80 83.01 M631.50 83.71 L631.89 83.77 L632.60 83.87 L633.30 83.97 L634.01 84.07 L634.71 84.16 L635.42 84.26 L636.12 84.36 L636.83 84.45 L637.53 84.55 L638.24 84.64 L638.94 84.73 L639.65 84.82 L639.97 84.86 M644.69 85.45 L645.29 85.52 L646.00 85.60 " stroke="#f4af7d" stroke-width="4.4"/>
<path d="M95.60 196.45 L96.32 196.45 L97.04 196.45 L97.77 196.45 L98.49 196.45 L99.21 196.45 L99.93 196.45 L100.65 196.45 L101.38 196.45 L102.10 196.45 L102.82 196.45 L103.54 196.45 L104.26 196.45 L104.99 196.45 L105.71 196.45 L106.43 196.45 L107.15 196.45 L107.87 196.45 L108.60 196.45 L109.32 196.45 L110.04 196.45 L110.76 196.45 L111.48 196.45 L112.20 196.45 L112.93 196.45 L113.65 196.45 L114.37 196.45 L115.09 196.45 L115.81 196.45 L116.54 196.45 L117.26 196.45 L117.98 196.45 L118.70 196.45 L119.42 196.45 L120.15 196.45 L120.87 196.45 L121.59 196.45 L122.31 196.45 L123.03 196.45 L123.76 196.45 L124.48 196.45 L125.20 196.45 L125.92 196.45 L126.64 196.45 L127.37 196.45 L128.09 196.45 L128.81 196.45 L129.53 196.45 L130.25 196.45 L130.98 196.45 L131.70 196.45 L132.42 196.45 L133.14 196.45 L133.86 196.45 L134.59 196.45 L135.31 196.45 L135.40 196.45 M139.90 196.45 L140.36 196.45 L141.08 196.45 L141.80 196.45 L142.53 196.45 L143.25 196.45 L143.97 196.45 L144.69 196.45 L145.41 196.45 L146.14 196.45 L146.86 196.45 L147.58 196.45 L148.30 196.45 L148.80 196.45 M153.30 196.45 L153.36 196.45 L154.08 196.45 L154.80 196.45 L155.52 196.45 L156.24 196.45 L156.97 196.45 L157.69 196.45 L158.41 196.45 L159.13 196.45 L159.85 196.45 L160.58 196.45 L161.30 196.45 L162.02 196.45 L162.74 196.45 L163.46 196.45 L164.19 196.45 L164.91 196.45 L165.63 196.45 L166.35 196.45 L167.07 196.45 L167.79 196.45 L168.52 196.45 L169.24 196.45 L169.96 196.45 L170.68 196.45 L171.40 196.45 L172.13 196.45 L172.85 196.45 L173.57 196.45 L174.29 196.45 L175.01 196.45 L175.74 196.45 L176.46 196.45 L177.18 196.45 L177.90 196.45 L178.62 196.45 L179.35 196.45 L180.07 196.45 L180.79 196.45 L181.51 196.45 L182.23 196.45 L182.96 196.45 L183.68 196.45 L184.40 196.45 L185.12 196.45 L185.84 196.45 L186.57 196.45 L187.29 196.45 L188.01 196.45 L188.73 196.45 L189.45 196.45 L190.18 196.45 L190.90 196.45 L191.62 196.45 L192.34 196.45 L193.06 196.45 L193.10 196.45 M197.60 196.45 L198.12 196.45 L198.84 196.45 L199.56 196.45 L200.28 196.45 L201.00 196.45 L201.73 196.45 L202.45 196.45 L203.17 196.45 L203.89 196.45 L204.61 196.45 L205.34 196.45 L206.06 196.45 L206.50 196.45 M211.00 196.44 L211.11 196.44 L211.83 196.44 L212.56 196.44 L213.28 196.44 L214.00 196.44 L214.72 196.43 L215.44 196.43 L216.17 196.43 L216.89 196.43 L217.61 196.43 L218.33 196.43 L219.05 196.42 L219.77 196.42 L220.50 196.42 L221.22 196.42 L221.94 196.42 L222.66 196.41 L223.38 196.41 L224.11 196.41 L224.83 196.41 L225.55 196.40 L226.27 196.40 L226.99 196.40 L227.72 196.40 L228.44 196.39 L229.16 196.39 L229.88 196.39 L230.60 196.39 L231.33 196.38 L232.05 196.38 L232.77 196.38 L233.49 196.38 L234.21 196.37 L234.94 196.37 L235.66 196.37 L236.38 196.36 L237.10 196.36 L237.82 196.36 L238.55 196.35 L239.27 196.35 L239.99 196.35 L240.71 196.34 L241.43 196.34 L242.16 196.34 L242.88 196.33 L243.60 196.33 L244.32 196.33 L245.04 196.32 L245.76 196.32 L246.49 196.32 L247.21 196.31 L247.93 196.31 L248.65 196.31 L249.37 196.30 L250.10 196.30 L250.80 196.30 M255.30 196.27 L255.87 196.26 L256.59 196.26 L257.32 196.25 L258.04 196.24 L258.76 196.24 L259.48 196.23 L260.20 196.22 L260.93 196.22 L261.65 196.21 L262.37 196.20 L263.09 196.19 L263.81 196.18 L264.20 196.18 M268.70 196.12 L268.87 196.12 L269.59 196.11 L270.31 196.10 L271.03 196.08 L271.75 196.07 L272.48 196.05 L273.20 196.04 L273.92 196.02 L274.64 196.00 L275.36 195.98 L276.08 195.96 L276.81 195.94 L277.53 195.92 L278.25 195.90 L278.97 195.87 L279.69 195.85 L280.41 195.82 L281.14 195.79 L281.86 195.77 L282.58 195.74 L283.30 195.71 L284.02 195.68 L284.74 195.65 L285.47 195.62 L286.19 195.59 L286.91 195.55 L287.63 195.52 L288.35 195.49 L289.07 195.45 L289.79 195.42 L290.51 195.38 L291.23 195.35 L291.95 195.31 L292.67 195.27 L293.39 195.23 L294.11 195.18 L294.84 195.13 L295.56 195.09 L296.28 195.04 L297.00 194.98 L297.72 194.93 L298.44 194.88 L299.16 194.82 L299.88 194.76 L300.60 194.70 L301.32 194.64 L302.04 194.58 L302.76 194.52 L303.48 194.46 L304.20 194.39 L304.92 194.32 L305.63 194.26 L306.35 194.19 L307.07 194.12 L307.79 194.05 L308.43 193.99 M312.90 193.52 L313.53 193.45 L314.25 193.36 L314.96 193.28 L315.68 193.19 L316.40 193.10 L317.11 193.00 L317.83 192.91 L318.54 192.81 L319.26 192.71 L319.98 192.61 L320.69 192.51 L321.41 192.41 L321.73 192.36 M326.18 191.69 L326.41 191.65 L327.12 191.54 L327.83 191.43 L328.55 191.31 L329.26 191.20 L329.97 191.09 L330.68 190.97 L331.39 190.85 L332.11 190.74 L332.82 190.62 L333.53 190.50 L334.24 190.38 L334.95 190.25 L335.67 190.13 L336.38 190.00 L337.09 189.87 L337.80 189.74 L338.51 189.61 L339.22 189.48 L339.93 189.35 L340.64 189.21 L341.35 189.07 L342.06 188.93 L342.77 188.79 L343.48 188.65 L344.18 188.51 L344.89 188.36 L345.60 188.21 L346.30 188.06 L347.01 187.91 L347.71 187.75 L348.42 187.60 L349.12 187.44 L349.82 187.28 L350.53 187.12 L351.23 186.95 L351.93 186.78 L352.62 186.60 L353.32 186.41 L354.02 186.22 L354.71 186.02 L355.41 185.83 L356.10 185.63 L356.80 185.42 L357.49 185.22 L358.18 185.02 L358.88 184.82 L359.57 184.62 L360.27 184.42 L360.96 184.23 L361.66 184.04 L362.36 183.85 L363.06 183.67 L363.76 183.49 L364.46 183.31 L365.02 183.17 M369.35 181.97 L370.02 181.76 L370.70 181.53 L371.38 181.30 L372.06 181.05 L372.73 180.79 L373.40 180.52 L374.06 180.25 L374.73 179.96 L375.39 179.67 L376.05 179.37 L376.71 179.07 L377.37 178.77 L377.61 178.66 M381.68 176.75 L381.95 176.62 L382.60 176.31 L383.25 176.00 L383.90 175.68 L384.55 175.36 L385.20 175.04 L385.84 174.72 L386.49 174.39 L387.13 174.06 L387.77 173.73 L388.42 173.40 L389.06 173.07 L389.69 172.73 L390.33 172.39 L390.96 172.05 L391.60 171.71 L392.23 171.36 L392.86 171.01 L393.49 170.66 L394.12 170.30 L394.75 169.94 L395.38 169.58 L396.00 169.22 L396.63 168.85 L397.25 168.49 L397.87 168.12 L398.49 167.75 L399.10 167.37 L399.72 167.00 L400.33 166.62 L400.95 166.24 L401.56 165.85 L402.17 165.47 L402.77 165.08 L403.38 164.68 L403.99 164.29 L404.59 163.89 L405.19 163.49 L405.79 163.09 L406.39 162.69 L406.99 162.29 L407.59 161.88 L408.18 161.47 L408.78 161.06 L409.37 160.65 L409.96 160.24 L410.55 159.82 L411.14 159.41 L411.73 158.99 L412.32 158.57 L412.90 158.14 L413.48 157.72 L414.07 157.29 L414.65 156.86 L415.23 156.43 L415.64 156.12 M419.22 153.40 L419.26 153.38 L419.83 152.94 L420.40 152.50 L420.97 152.06 L421.54 151.61 L422.11 151.17 L422.67 150.72 L423.24 150.27 L423.80 149.81 L424.36 149.36 L424.93 148.91 L425.49 148.45 L426.05 148.00 L426.20 147.88 M429.69 145.04 L429.98 144.82 L430.54 144.37 L431.10 143.92 L431.67 143.47 L432.23 143.02 L432.80 142.57 L433.36 142.12 L433.93 141.67 L434.49 141.22 L435.06 140.77 L435.62 140.32 L436.19 139.87 L436.76 139.42 L437.32 138.98 L437.89 138.53 L438.46 138.08 L439.02 137.64 L439.59 137.19 L440.16 136.74 L440.73 136.30 L441.30 135.86 L441.87 135.41 L442.44 134.97 L443.01 134.53 L443.58 134.08 L444.15 133.64 L444.72 133.20 L445.29 132.76 L445.86 132.32 L446.43 131.87 L447.00 131.44 L447.58 131.00 L448.15 130.56 L448.73 130.12 L449.30 129.68 L449.88 129.25 L450.45 128.81 L451.03 128.38 L451.60 127.94 L452.18 127.51 L452.76 127.07 L453.33 126.64 L453.91 126.20 L454.49 125.77 L455.07 125.34 L455.65 124.90 L456.23 124.47 L456.81 124.05 L457.39 123.62 L457.97 123.19 L458.56 122.77 L459.14 122.35 L459.73 121.93 L460.32 121.52 L460.91 121.10 L461.28 120.84 M464.99 118.30 L465.08 118.24 L465.68 117.84 L466.28 117.44 L466.89 117.04 L467.49 116.65 L468.10 116.26 L468.71 115.87 L469.33 115.49 L469.94 115.11 L470.56 114.74 L471.18 114.38 L471.80 114.02 L472.43 113.66 L472.55 113.59 M476.50 111.44 L476.87 111.25 L477.51 110.91 L478.16 110.58 L478.80 110.26 L479.44 109.93 L480.09 109.60 L480.73 109.28 L481.38 108.96 L482.03 108.64 L482.68 108.32 L483.32 108.00 L483.97 107.69 L484.63 107.38 L485.28 107.06 L485.93 106.76 L486.59 106.45 L487.24 106.15 L487.90 105.85 L488.56 105.55 L489.22 105.26 L489.88 104.97 L490.54 104.69 L491.21 104.41 L491.88 104.14 L492.55 103.87 L493.22 103.61 L493.89 103.35 L494.57 103.10 L495.24 102.84 L495.92 102.59 L496.60 102.34 L497.28 102.10 L497.96 101.85 L498.64 101.60 L499.31 101.35 L499.99 101.10 L500.67 100.85 L501.34 100.60 L502.02 100.34 L502.70 100.09 L503.37 99.84 L504.05 99.58 L504.73 99.33 L505.41 99.09 L506.09 98.85 L506.77 98.61 L507.45 98.38 L508.14 98.16 L508.82 97.94 L509.51 97.72 L510.20 97.51 L510.90 97.30 L511.59 97.10 L512.28 96.90 L512.98 96.70 L513.35 96.60 M517.69 95.41 L517.85 95.37 L518.55 95.18 L519.25 94.99 L519.95 94.80 L520.65 94.62 L521.35 94.44 L522.05 94.26 L522.75 94.09 L523.45 93.93 L524.16 93.78 L524.87 93.64 L525.57 93.52 L526.28 93.39 L526.35 93.38 M530.80 92.71 L531.28 92.65 L532.00 92.56 L532.72 92.47 L533.44 92.39 L534.16 92.31 L534.87 92.23 L535.59 92.16 L536.31 92.09 L537.03 92.02 L537.75 91.95 L538.46 91.89 L539.18 91.82 L539.90 91.76 L540.62 91.71 L541.34 91.65 L542.06 91.60 L542.79 91.55 L543.51 91.50 L544.23 91.45 L544.95 91.41 L545.67 91.37 L546.39 91.34 L547.11 91.30 L547.83 91.26 L548.55 91.22 L549.27 91.18 L549.99 91.15 L550.72 91.11 L551.44 91.08 L552.16 91.06 L552.88 91.03 L553.60 91.02 L554.32 91.01 L555.05 91.00 L555.77 91.00 L556.49 91.00 L557.21 91.00 L557.93 91.00 L558.65 91.00 L559.38 91.00 L560.10 91.00 L560.82 91.00 L561.54 91.00 L562.27 91.00 L562.99 91.00 L563.71 91.00 L564.43 91.00 L565.15 91.00 L565.87 91.00 L566.60 91.01 L567.32 91.01 L568.04 91.03 L568.76 91.04 L569.48 91.06 L570.21 91.08 L570.53 91.08 M575.03 91.19 L575.26 91.20 L575.98 91.21 L576.70 91.22 L577.42 91.22 L578.15 91.23 L578.87 91.24 L579.59 91.25 L580.31 91.26 L581.03 91.26 L581.76 91.27 L582.48 91.28 L583.20 91.28 L583.92 91.29 L583.93 91.29 M588.43 91.33 L588.97 91.33 L589.70 91.34 L590.42 91.34 L591.14 91.35 L591.86 91.36 L592.58 91.36 L593.31 91.37 L594.03 91.38 L594.75 91.39 L595.47 91.40 L596.19 91.41 L596.92 91.42 L597.64 91.43 L598.36 91.44 L599.08 91.45 L599.80 91.47 L600.52 91.48 L601.25 91.49 L601.97 91.51 L602.69 91.52 L603.41 91.54 L604.13 91.55 L604.86 91.57 L605.58 91.58 L606.30 91.60 L607.02 91.62 L607.74 91.63 L608.46 91.65 L609.19 91.66 L609.91 91.68 L610.63 91.70 L611.35 91.71 L612.07 91.73 L612.80 91.74 L613.52 91.76 L614.24 91.77 L614.96 91.78 L615.68 91.80 L616.40 91.81 L617.13 91.82 L617.85 91.84 L618.57 91.85 L619.29 91.86 L620.01 91.88 L620.74 91.89 L621.46 91.90 L622.18 91.91 L622.90 91.93 L623.62 91.94 L624.34 91.95 L625.07 91.96 L625.79 91.98 L626.51 91.99 L627.23 92.00 L627.95 92.01 L628.22 92.02 M632.72 92.09 L633.01 92.10 L633.73 92.11 L634.45 92.12 L635.17 92.13 L635.89 92.14 L636.62 92.16 L637.34 92.17 L638.06 92.18 L638.78 92.19 L639.50 92.20 L640.23 92.21 L640.95 92.22 L641.62 92.23 " stroke="#b03c50" stroke-width="4.4"/>
<path d="M183.65 2.9 V390.1" stroke="#000" stroke-width="3.3"/>
<path d="M256.6 2.9 V390.1" stroke="#000" stroke-width="0.85"/>
<path d="M519.45 2.9 V390.1" stroke="#000" stroke-width="0.85"/>
</g>
<path d="M98.36 390.1 v-6.8 M98.36 2.9 v6.8 M120.54 390.1 v-3.9 M120.54 2.9 v3.9 M142.72 390.1 v-3.9 M142.72 2.9 v3.9 M164.89 390.1 v-3.9 M164.89 2.9 v3.9 M187.07 390.1 v-6.8 M187.07 2.9 v6.8 M209.25 390.1 v-3.9 M209.25 2.9 v3.9 M231.43 390.1 v-3.9 M231.43 2.9 v3.9 M253.60 390.1 v-3.9 M253.60 2.9 v3.9 M275.78 390.1 v-6.8 M275.78 2.9 v6.8 M297.96 390.1 v-3.9 M297.96 2.9 v3.9 M320.13 390.1 v-3.9 M320.13 2.9 v3.9 M342.31 390.1 v-3.9 M342.31 2.9 v3.9 M364.49 390.1 v-6.8 M364.49 2.9 v6.8 M386.67 390.1 v-3.9 M386.67 2.9 v3.9 M408.85 390.1 v-3.9 M408.85 2.9 v3.9 M431.02 390.1 v-3.9 M431.02 2.9 v3.9 M453.20 390.1 v-6.8 M453.20 2.9 v6.8 M475.38 390.1 v-3.9 M475.38 2.9 v3.9 M497.56 390.1 v-3.9 M497.56 2.9 v3.9 M519.73 390.1 v-3.9 M519.73 2.9 v3.9 M541.91 390.1 v-6.8 M541.91 2.9 v6.8 M564.09 390.1 v-3.9 M564.09 2.9 v3.9 M586.26 390.1 v-3.9 M586.26 2.9 v3.9 M608.44 390.1 v-3.9 M608.44 2.9 v3.9 M630.62 390.1 v-6.8 M630.62 2.9 v6.8 M87.0 376.32 h3.9 M641.8 376.32 h-3.9 M87.0 362.49 h6.8 M641.8 362.49 h-6.8 M87.0 348.65 h3.9 M641.8 348.65 h-3.9 M87.0 334.81 h3.9 M641.8 334.81 h-3.9 M87.0 320.98 h3.9 M641.8 320.98 h-3.9 M87.0 307.14 h6.8 M641.8 307.14 h-6.8 M87.0 293.31 h3.9 M641.8 293.31 h-3.9 M87.0 279.47 h3.9 M641.8 279.47 h-3.9 M87.0 265.63 h3.9 M641.8 265.63 h-3.9 M87.0 251.80 h6.8 M641.8 251.80 h-6.8 M87.0 237.96 h3.9 M641.8 237.96 h-3.9 M87.0 224.12 h3.9 M641.8 224.12 h-3.9 M87.0 210.29 h3.9 M641.8 210.29 h-3.9 M87.0 196.45 h6.8 M641.8 196.45 h-6.8 M87.0 182.61 h3.9 M641.8 182.61 h-3.9 M87.0 168.78 h3.9 M641.8 168.78 h-3.9 M87.0 154.94 h3.9 M641.8 154.94 h-3.9 M87.0 141.10 h6.8 M641.8 141.10 h-6.8 M87.0 127.27 h3.9 M641.8 127.27 h-3.9 M87.0 113.43 h3.9 M641.8 113.43 h-3.9 M87.0 99.59 h3.9 M641.8 99.59 h-3.9 M87.0 85.76 h6.8 M641.8 85.76 h-6.8 M87.0 71.92 h3.9 M641.8 71.92 h-3.9 M87.0 58.08 h3.9 M641.8 58.08 h-3.9 M87.0 44.25 h3.9 M641.8 44.25 h-3.9 M87.0 30.41 h6.8 M641.8 30.41 h-6.8 M87.0 16.58 h3.9 M641.8 16.58 h-3.9" stroke="#2a2a2a" stroke-width="0.65" fill="none"/>
<rect x="87.0" y="2.9" width="554.8" height="387.20000000000005" fill="none" stroke="#9c9c9c" stroke-width="1.05"/>
<text x="98.36" y="416.6" font-family="Liberation Serif, serif" font-size="22.7" text-anchor="middle">0.0</text>
<text x="187.07" y="416.6" font-family="Liberation Serif, serif" font-size="22.7" text-anchor="middle">0.2</text>
<text x="275.78" y="416.6" font-family="Liberation Serif, serif" font-size="22.7" text-anchor="middle">0.4</text>
<text x="364.49" y="416.6" font-family="Liberation Serif, serif" font-size="22.7" text-anchor="middle">0.6</text>
<text x="453.20" y="416.6" font-family="Liberation Serif, serif" font-size="22.7" text-anchor="middle">0.8</text>
<text x="541.91" y="416.6" font-family="Liberation Serif, serif" font-size="22.7" text-anchor="middle">1.0</text>
<text x="630.62" y="416.6" font-family="Liberation Serif, serif" font-size="22.7" text-anchor="middle">1.2</text>
<text x="82.3" y="39.41" font-family="Liberation Serif, serif" font-size="22.7" text-anchor="end">60</text>
<text x="82.3" y="94.76" font-family="Liberation Serif, serif" font-size="22.7" text-anchor="end">40</text>
<text x="82.3" y="150.10" font-family="Liberation Serif, serif" font-size="22.7" text-anchor="end">20</text>
<text x="82.3" y="205.45" font-family="Liberation Serif, serif" font-size="22.7" text-anchor="end">0</text>
<text x="82.3" y="260.80" font-family="Liberation Serif, serif" font-size="22.7" text-anchor="end">20</text>
<path d="M46.6 255.20 H58.2" stroke="#000" stroke-width="1.25" fill="none"/>
<text x="82.3" y="316.14" font-family="Liberation Serif, serif" font-size="22.7" text-anchor="end">40</text>
<path d="M46.6 310.54 H58.2" stroke="#000" stroke-width="1.25" fill="none"/>
<text x="82.3" y="371.49" font-family="Liberation Serif, serif" font-size="22.7" text-anchor="end">60</text>
<path d="M46.6 365.89 H58.2" stroke="#000" stroke-width="1.25" fill="none"/>
<text x="0.2" y="206.2" font-family="Liberation Serif, serif" font-size="32.8" font-style="italic" stroke="#000" stroke-width="0.45">C</text>
<text x="20.3" y="208.8" font-family="Liberation Serif, serif" font-size="17.6" font-style="italic" stroke="#000" stroke-width="0.2">V</text>
<path d="M355.0 442.9 L359.0 441.8 L362.6 441.3 L357.4 455.3 L354.5 455.4 L358.5 443.9 C358.7 443.2 358.3 443.0 357.4 443.1 L355.1 443.5 Z" fill="#000"/><path d="M360.7 448.0 C361.6 446.0 363.0 444.2 364.9 443.5" stroke="#000" stroke-width="1.15" fill="none"/><circle cx="366.0" cy="442.8" r="1.65" fill="#000"/>
<text x="366.0" y="458.7" font-family="Liberation Serif, serif" font-size="17" font-style="italic" stroke="#000" stroke-width="0.2">h</text>
<path d="M187.0 492.35 h37" stroke="#5abee8" stroke-width="2.3" stroke-dasharray="9.2 4.45" fill="none"/>
<path d="M281.7 492.35 h39.2" stroke="#f4af7d" stroke-width="2.3" stroke-dasharray="2.3 2.3" fill="none"/>
<path d="M403.9 492.35 h39.4" stroke="#b03c50" stroke-width="2.3" stroke-dasharray="14 4.2 2.9 3.9" fill="none"/>
<g transform="translate(0 0)" fill="none" stroke="#000" stroke-linecap="round" stroke-linejoin="round"><path d="M235.7 483.6 C233.6 484.6 232.4 488 231.8 491 C231.3 493.6 230.7 496.2 231.5 497.1" stroke-width="1.9"/><path d="M228.8 493.4 C231 492.8 234 490.5 235.8 487.8 C237 486 237.4 484.1 236.7 483.5 C236.3 483.2 236 483.4 235.7 483.6 M231.5 497.1 C232.1 497.7 233 497.2 233.9 496.2" stroke-width="0.8"/></g>
<path d="M238.80 490.0 h11.4 M238.80 494.7 h11.4" stroke="#000" stroke-width="1.3" fill="none"/>
<text x="250.60" y="497.7" font-family="Liberation Serif, serif" font-size="22.7">0.1</text>
<g transform="translate(94.8 0)" fill="none" stroke="#000" stroke-linecap="round" stroke-linejoin="round"><path d="M235.7 483.6 C233.6 484.6 232.4 488 231.8 491 C231.3 493.6 230.7 496.2 231.5 497.1" stroke-width="1.9"/><path d="M228.8 493.4 C231 492.8 234 490.5 235.8 487.8 C237 486 237.4 484.1 236.7 483.5 C236.3 483.2 236 483.4 235.7 483.6 M231.5 497.1 C232.1 497.7 233 497.2 233.9 496.2" stroke-width="0.8"/></g>
<path d="M333.60 490.0 h11.4 M333.60 494.7 h11.4" stroke="#000" stroke-width="1.3" fill="none"/>
<text x="345.40" y="497.7" font-family="Liberation Serif, serif" font-size="22.7">0.175</text>
<g transform="translate(219.4 0)" fill="none" stroke="#000" stroke-linecap="round" stroke-linejoin="round"><path d="M235.7 483.6 C233.6 484.6 232.4 488 231.8 491 C231.3 493.6 230.7 496.2 231.5 497.1" stroke-width="1.9"/><path d="M228.8 493.4 C231 492.8 234 490.5 235.8 487.8 C237 486 237.4 484.1 236.7 483.5 C236.3 483.2 236 483.4 235.7 483.6 M231.5 497.1 C232.1 497.7 233 497.2 233.9 496.2" stroke-width="0.8"/></g>
<path d="M458.20 490.0 h11.4 M458.20 494.7 h11.4" stroke="#000" stroke-width="1.3" fill="none"/>
<text x="470.00" y="497.7" font-family="Liberation Serif, serif" font-size="22.7">0.2</text>
</svg>
</body></html>
